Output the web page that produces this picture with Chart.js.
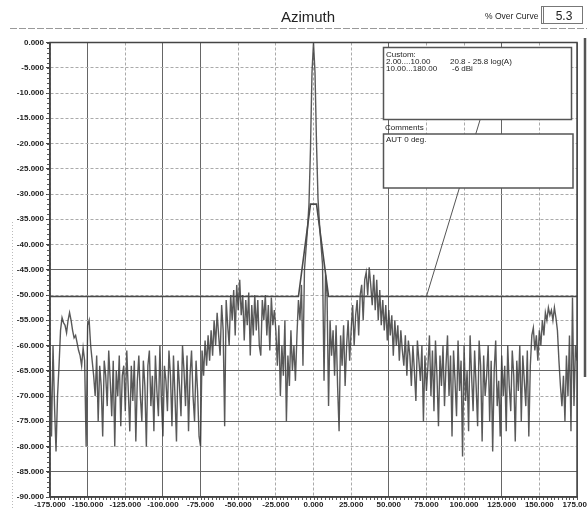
<!DOCTYPE html>
<html>
<head>
<meta charset="utf-8">
<script src="https://cdn.jsdelivr.net/npm/chart.js@4.4.1/dist/chart.umd.min.js"></script>
<style>
  html, body { margin: 0; padding: 0; background: #fff; }
  #wrap { position: relative; width: 587px; height: 510px; }
</style>
</head>
<body>
<div id="wrap"><canvas id="azimuth" width="587" height="510"></canvas></div>
<script>
// measured azimuth cut, 1 degree steps from -175 to 175 (dB, normalised to peak)
const firstAngle = -175;
const gainWest = [
  -63, -78, -60, -72, -81, -70, -64, -57, -54.5, -55.5,
  -56, -57.5, -55, -53.5, -55, -57, -58.5, -58, -59.5, -61,
  -62, -64, -60.5, -63, -80, -56, -55, -60, -63, -66,
  -70, -62, -75, -64, -68, -78, -63, -66, -72, -61,
  -67, -74, -63, -80, -65, -70, -62, -76, -66, -64,
  -73, -61, -69, -77, -64, -71, -63, -79, -67, -62,
  -70, -75, -63, -68, -80, -64, -61, -72, -66, -77
];
const gainWestShoulder = [
  -62, -69, -74, -60, -71, -78, -64, -67, -73, -61,
  -66, -76, -62, -70, -79, -63, -68, -74, -60, -65,
  -72, -62, -77, -66, -61, -70, -75, -63, -69, -78,
  -80, -61, -66, -59, -64, -58, -63, -57, -62, -55,
  -60, -53.5, -58, -62, -52, -57, -76, -51, -56, -60,
  -50, -55, -49, -58, -48, -53, -47, -54, -50, -59,
  -51, -56, -49.5, -62, -52, -58, -50, -57, -51, -60,
  -62, -51, -55, -50, -58, -52, -61, -50.5, -56, -53,
  -57, -64, -56, -70, -60, -66, -55, -75, -62, -68,
  -57, -65, -60, -67, -58, -51, -55, -48, -64, -45
];
const gainMainLobe = [-41, -37, -32, -21, -6, 0, -6, -20, -31, -36, -40];
const gainEastShoulder = [
  -44, -67, -46, -50, -72, -55, -62, -57, -66, -56,
  -68, -77, -58, -64, -56, -68, -60, -55, -63, -57,
  -52, -60, -54, -51, -58, -50, -48, -55, -47, -45.5,
  -50, -44.5, -48, -52, -46, -53, -47, -55, -49, -56,
  -51, -57, -52, -59, -53, -58, -54, -62, -55, -60,
  -56, -63, -57, -61, -64, -58, -66, -59, -62, -68,
  -60, -65, -71, -59, -63, -67, -60, -75, -62, -69,
  -64, -58, -70, -61, -73, -59, -66, -76, -62, -68,
  -60, -72, -64, -58, -70, -62, -78, -61, -67, -74,
  -59, -69, -63, -82, -60, -71, -65, -77, -58, -66
];
const gainEast = [
  -73, -61, -68, -76, -59, -64, -79, -62, -70, -66,
  -60, -75, -63, -81, -65, -59, -72, -67, -78, -62,
  -70, -64, -77, -60, -68, -73, -61, -66, -79, -63,
  -69, -60, -75, -62, -67, -72, -61, -78, -64, -58,
  -56.5, -61, -58, -63, -57, -60, -55, -58, -53.5, -55,
  -52.5, -54, -53, -55, -52.5, -54.5, -57, -63, -68, -72,
  -66, -75, -62, -70, -58, -77, -50.5, -72, -60, -63
];

// custom limit line (normalised)
const maskAngles = [-175, -10, -2, 2, 10, 175];
const maskLevels = [-50.3, -50.3, -32, -32, -50.3, -50.3];
const calloutTarget = [75, -50.3];

const xTicks = [-175, -150, -125, -100, -75, -50, -25, 0, 25, 50, 75, 100, 125, 150, 175];
const darkX = [-150, -100, -75, 50, 125, 175];
const darkY = [0, -45, -60, -65, -75, -85];

const overCurve = '5.3';
const limitLines = [
  ['2.00....10.00', '20.8 - 25.8 log(A)'],
  ['10.00...180.00', '-6 dBi']
];
const commentText = 'AUT 0 deg.';

const gain = [].concat(gainWest, gainWestShoulder, gainMainLobe, gainEastShoulder, gainEast);
const pattern = gain.map((g, i) => ({ x: firstAngle + i, y: g }));
const mask = maskAngles.map((a, i) => ({ x: a, y: maskLevels[i] }));

const labelFont = { family: 'Liberation Sans', size: 8, weight: 'bold' };

const headerPlugin = {
  id: 'header',
  afterDraw(chart) {
    const ctx = chart.ctx;
    ctx.save();
    ctx.fillStyle = '#222';
    ctx.font = '15px "Liberation Sans"';
    ctx.textAlign = 'center';
    ctx.fillText('Azimuth', 308, 22);
    ctx.textAlign = 'left';
    ctx.font = '8.5px "Liberation Sans"';
    ctx.fillText('% Over Curve', 485, 19);
    ctx.strokeStyle = '#777';
    ctx.lineWidth = 1;
    ctx.strokeRect(541.5, 6.5, 41, 17);
    ctx.beginPath();
    ctx.moveTo(543.5, 7); ctx.lineTo(543.5, 23);
    ctx.stroke();
    ctx.font = '12px "Liberation Sans"';
    ctx.textAlign = 'center';
    ctx.fillText(overCurve, 564, 20);
    // rule under the title
    ctx.strokeStyle = '#999';
    ctx.setLineDash([7, 2]);
    ctx.beginPath();
    ctx.moveTo(10, 28.5); ctx.lineTo(587, 28.5);
    ctx.stroke();
    ctx.restore();
  }
};

const minorTicksPlugin = {
  id: 'minorTicks',
  afterDraw(chart) {
    const { ctx, chartArea } = chart;
    const xs = chart.scales.x, ys = chart.scales.y;
    ctx.save();
    ctx.strokeStyle = '#555';
    ctx.lineWidth = 1;
    ctx.beginPath();
    for (let v = 0; v >= -90; v -= 1) {
      const y = Math.round(ys.getPixelForValue(v)) + 0.5;
      ctx.moveTo(chartArea.left - 3, y); ctx.lineTo(chartArea.left, y);
    }
    for (let a = -175; a <= 175; a += 2.5) {
      const x = Math.round(xs.getPixelForValue(a)) + 0.5;
      ctx.moveTo(x, chartArea.bottom); ctx.lineTo(x, chartArea.bottom + 3);
    }
    ctx.stroke();
    // frame
    ctx.strokeStyle = '#444';
    ctx.lineWidth = 1.5;
    ctx.strokeRect(chartArea.left, chartArea.top, chartArea.right - chartArea.left, chartArea.bottom - chartArea.top);
    // scanner streaks at the page edges
    ctx.strokeStyle = '#555';
    ctx.lineWidth = 2.5;
    ctx.beginPath();
    ctx.moveTo(585, 38); ctx.lineTo(585, 377);
    ctx.stroke();
    ctx.strokeStyle = '#bbb';
    ctx.lineWidth = 1;
    ctx.setLineDash([1, 2]);
    ctx.beginPath();
    ctx.moveTo(12.5, 222); ctx.lineTo(12.5, 510);
    ctx.stroke();
    ctx.restore();
  }
};

const notesPlugin = {
  id: 'notes',
  afterDatasetsDraw(chart) {
    const ctx = chart.ctx;
    const xs = chart.scales.x, ys = chart.scales.y;
    ctx.save();
    // callout from the limit box down to the limit line
    ctx.strokeStyle = '#555';
    ctx.lineWidth = 1;
    ctx.beginPath();
    ctx.moveTo(480, 120);
    ctx.lineTo(xs.getPixelForValue(calloutTarget[0]), ys.getPixelForValue(calloutTarget[1]));
    ctx.stroke();

    ctx.fillStyle = '#fff';
    ctx.strokeStyle = '#555';
    ctx.lineWidth = 1.5;
    ctx.fillRect(383.5, 47.5, 188, 72);
    ctx.strokeRect(383.5, 47.5, 188, 72);
    ctx.fillRect(383.5, 134, 189.5, 54);
    ctx.strokeRect(383.5, 134, 189.5, 54);

    ctx.fillStyle = '#222';
    ctx.font = '8px "Liberation Sans"';
    ctx.textAlign = 'left';
    ctx.fillText('Custom:', 386, 56.5);
    limitLines.forEach((row, i) => {
      ctx.fillText(row[0], 386, 63.5 + i * 7);
      ctx.fillText(row[1], i === 0 ? 450 : 452, 63.5 + i * 7);
    });
    ctx.fillText('Comments', 385, 129.5);
    ctx.fillText(commentText, 386, 142);
    ctx.restore();
  }
};

new Chart(document.getElementById('azimuth'), {
  type: 'line',
  data: {
    datasets: [
      {
        label: 'Limit',
        data: mask,
        borderColor: '#4a4a4a',
        borderWidth: 1.6,
        pointRadius: 0,
        tension: 0
      },
      {
        label: 'Azimuth',
        data: pattern,
        borderColor: 'rgba(60,60,60,0.85)',
        borderWidth: 1.4,
        pointRadius: 0,
        tension: 0
      }
    ]
  },
  options: {
    responsive: false,
    animation: false,
    layout: { padding: { top: 42.5, right: 10, left: 0, bottom: 0 } },
    plugins: { legend: { display: false }, tooltip: { enabled: false } },
    scales: {
      x: {
        type: 'linear',
        min: -175,
        max: 175,
        afterBuildTicks: s => { s.ticks = xTicks.map(v => ({ value: v })); },
        afterFit: s => { s.height = 13; s.paddingLeft = 0; s.paddingRight = 0; },
        ticks: {
          callback: v => v.toFixed(3),
          font: labelFont,
          color: '#222',
          maxRotation: 0,
          autoSkip: false,
          padding: 3
        },
        grid: {
          drawTicks: false,
          color: c => darkX.includes(c.tick && c.tick.value) ? '#666' : '#aaa',
          lineWidth: 1
        },
        border: {
          color: '#444',
          width: 1.5,
          dash: c => darkX.includes(c.tick && c.tick.value) ? [] : [3, 2]
        }
      },
      y: {
        min: -90,
        max: 0,
        afterFit: s => { s.width = 50; },
        ticks: {
          stepSize: 5,
          callback: v => v.toFixed(3),
          font: labelFont,
          color: '#222',
          padding: 2
        },
        grid: {
          tickLength: 4,
          tickColor: '#444',
          color: c => darkY.includes(c.tick && c.tick.value) ? '#666' : '#aaa',
          lineWidth: 1
        },
        border: {
          color: '#444',
          width: 1.5,
          dash: c => darkY.includes(c.tick && c.tick.value) ? [] : [3, 2]
        }
      }
    }
  },
  plugins: [headerPlugin, minorTicksPlugin, notesPlugin]
});
</script>
</body>
</html>
